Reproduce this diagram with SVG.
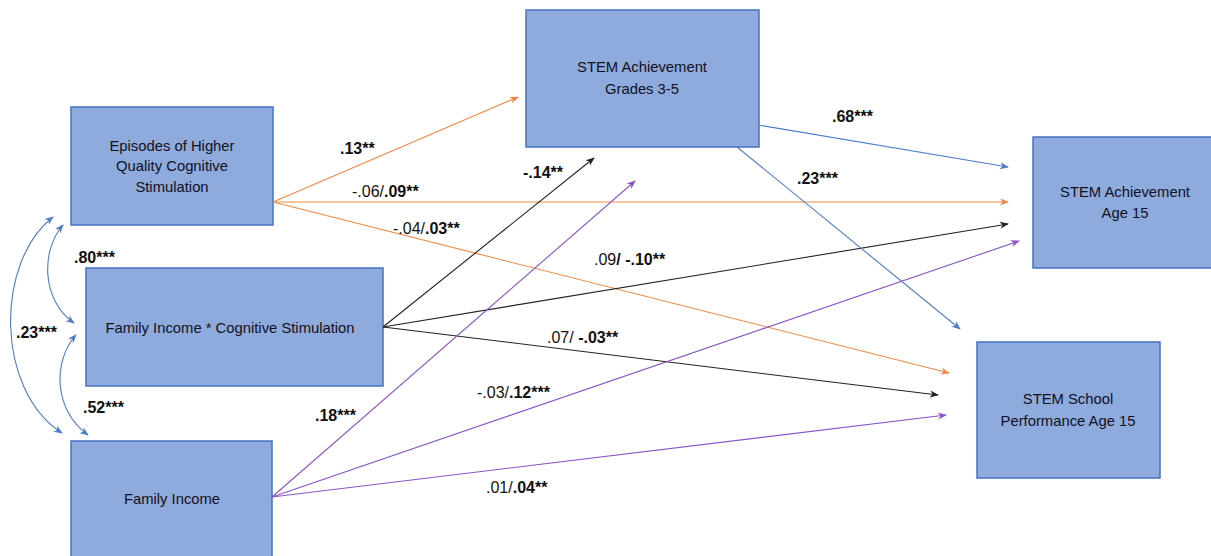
<svg xmlns="http://www.w3.org/2000/svg" width="1211" height="556" viewBox="0 0 1211 556">
  <style>
    .box { fill: #8FAADC; stroke: #4472C4; stroke-width: 1.5; }
    .node-text { font-family: "Liberation Sans", Arial, sans-serif; font-size: 14.8px; fill: #111122; text-anchor: middle; }
    .lbl { font-family: "Liberation Sans", Arial, sans-serif; font-size: 16px; fill: #111; }
    .b { font-weight: bold; }
    .c { fill: none; stroke-width: 1.1; }
    .orange { stroke: #EE8A45; marker-end: url(#ah-orange); }
    .black { stroke: #222222; marker-end: url(#ah-black); }
    .purple { stroke: #8A55C8; marker-end: url(#ah-purple); }
    .blue { stroke: #4F7CC8; marker-end: url(#ah-blue); }
    .cov { stroke: #4F7CC8; marker-start: url(#ah-blue); marker-end: url(#ah-blue); }
  </style>
  <defs>
    <marker id="ah-orange" viewBox="0 0 10 10" refX="9" refY="5" markerWidth="9" markerHeight="9" markerUnits="userSpaceOnUse" orient="auto-start-reverse">
      <path d="M0,1 L10,5 L0,9 L3,5 z" fill="#EE8A45"/>
    </marker>
    <marker id="ah-black" viewBox="0 0 10 10" refX="9" refY="5" markerWidth="9" markerHeight="9" markerUnits="userSpaceOnUse" orient="auto-start-reverse">
      <path d="M0,1 L10,5 L0,9 L3,5 z" fill="#222222"/>
    </marker>
    <marker id="ah-purple" viewBox="0 0 10 10" refX="9" refY="5" markerWidth="9" markerHeight="9" markerUnits="userSpaceOnUse" orient="auto-start-reverse">
      <path d="M0,1 L10,5 L0,9 L3,5 z" fill="#8A55C8"/>
    </marker>
    <marker id="ah-blue" viewBox="0 0 10 10" refX="9" refY="5" markerWidth="9" markerHeight="9" markerUnits="userSpaceOnUse" orient="auto-start-reverse">
      <path d="M0,1 L10,5 L0,9 L3,5 z" fill="#4F7CC8"/>
    </marker>
  </defs>

  <rect width="1211" height="556" fill="#ffffff"/>

  <!-- Nodes -->
  <g id="node-stimulation">
    <rect class="box" x="71" y="107" width="202" height="118"/>
    <text class="node-text" x="172" y="151">Episodes of Higher</text>
    <text class="node-text" x="172" y="171">Quality Cognitive</text>
    <text class="node-text" x="172" y="192">Stimulation</text>
  </g>
  <g id="node-interaction">
    <rect class="box" x="86" y="268" width="297" height="118"/>
    <text class="node-text" x="230" y="333">Family Income * Cognitive Stimulation</text>
  </g>
  <g id="node-income">
    <rect class="box" x="71" y="441" width="201" height="130"/>
    <text class="node-text" x="172" y="504">Family Income</text>
  </g>
  <g id="node-grades">
    <rect class="box" x="526" y="10" width="233" height="137"/>
    <text class="node-text" x="642" y="72">STEM Achievement</text>
    <text class="node-text" x="642" y="94">Grades 3-5</text>
  </g>
  <g id="node-achievement15">
    <rect class="box" x="1033" y="137" width="190" height="131"/>
    <text class="node-text" x="1125" y="197">STEM Achievement</text>
    <text class="node-text" x="1125" y="218">Age 15</text>
  </g>
  <g id="node-school15">
    <rect class="box" x="977" y="342" width="183" height="136"/>
    <text class="node-text" x="1068" y="404">STEM School</text>
    <text class="node-text" x="1068" y="426">Performance Age 15</text>
  </g>

  <!-- Connectors -->
  <g id="connectors">
    <!-- from cognitive stimulation -->
    <path class="c orange" d="M273,202 L518,97"/>
    <path class="c orange" d="M273,202 L1008,202"/>
    <path class="c orange" d="M273,202 L949,373"/>
    <!-- from interaction term -->
    <path class="c black" d="M383,327 L594,158"/>
    <path class="c black" d="M383,327 L1008,224"/>
    <path class="c black" d="M383,327 L938,395"/>
    <!-- from family income -->
    <path class="c purple" d="M272,497 L635,181"/>
    <path class="c purple" d="M272,497 L1019,241"/>
    <path class="c purple" d="M272,497 L946,415"/>
    <!-- from grades 3-5 achievement -->
    <path class="c blue" d="M758,125 L1008,167"/>
    <path class="c blue" d="M737,147 L960,329"/>
    <!-- covariances -->
    <path class="c cov" d="M53,217 C-5,262 -5,390 62,433"/>
    <path class="c cov" d="M63,225 C41,250 41,300 74,323"/>
    <path class="c cov" d="M76,335 C53,360 53,410 88,435"/>
  </g>

  <!-- Path coefficients -->
  <g id="labels">
    <text class="lbl b" x="340" y="154">.13**</text>
    <text class="lbl" x="352" y="197">-.06/<tspan class="b">.09**</tspan></text>
    <text class="lbl" x="393" y="234">-.04/<tspan class="b">.03**</tspan></text>
    <text class="lbl b" x="523" y="178">-.14**</text>
    <text class="lbl" x="594" y="265">.09<tspan class="b">/ -.10**</tspan></text>
    <text class="lbl" x="547" y="343">.07/ <tspan class="b">-.03**</tspan></text>
    <text class="lbl" x="477" y="398">-.03/<tspan class="b">.12***</tspan></text>
    <text class="lbl" x="486" y="493">.01/<tspan class="b">.04**</tspan></text>
    <text class="lbl b" x="832" y="122">.68***</text>
    <text class="lbl b" x="797" y="184">.23***</text>
    <text class="lbl b" x="74" y="263">.80***</text>
    <text class="lbl b" x="16" y="338">.23***</text>
    <text class="lbl b" x="83" y="413">.52***</text>
    <text class="lbl b" x="315" y="421">.18***</text>
  </g>
</svg>
